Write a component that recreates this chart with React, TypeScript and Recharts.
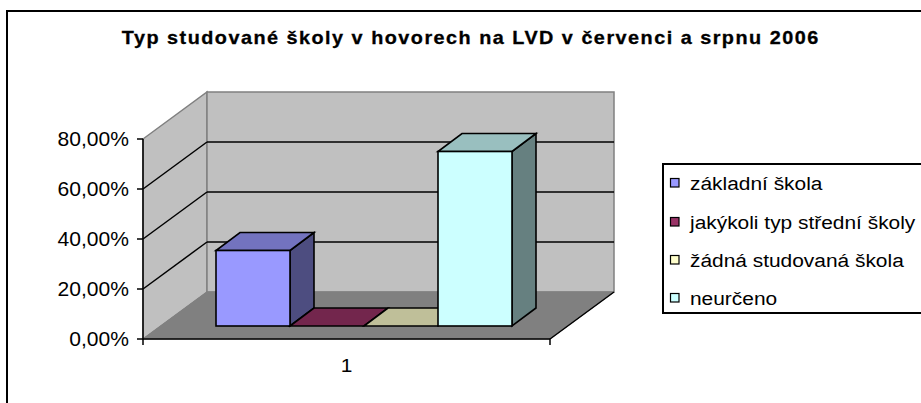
import React from 'react';
import { BarChart, Bar, XAxis, YAxis, ReferenceArea, Legend } from 'recharts';

const title = 'Typ studované školy v hovorech na LVD v červenci a srpnu 2006';
const categories = ['1'];
const seriesNames = ['základní škola', 'jakýkoli typ střední školy', 'žádná studovaná škola', 'neurčeno'];
const seriesValues = [0.302, 0, 0, 0.698];
const seriesColors = ['#9999FF', '#993366', '#FFFFCC', '#CCFFFF'];
const yTicks = [0, 0.2, 0.4, 0.6, 0.8];

const data = categories.map((c) => {
  const row: any = { name: c };
  seriesValues.forEach((v, i) => {
    row['s' + i] = v;
  });
  return row;
});

// 3D projection offsets (oblique)
const WALL_DX = 64;
const WALL_DY = -47;
const BAR_OX = 18;
const BAR_OY = -13;
const BAR_DX = 24;
const BAR_DY = -18;
const FONT = 'Arial, "Liberation Sans", sans-serif';

const shade = (hex: string, k: number) => {
  const n = parseInt(hex.slice(1), 16);
  const r = Math.round(((n >> 16) & 255) * k);
  const g = Math.round(((n >> 8) & 255) * k);
  const b = Math.round((n & 255) * k);
  return `rgb(${r},${g},${b})`;
};

const fmtPct = (v: number) => (v * 100).toFixed(2).replace('.', ',') + '%';

const Bar3D = (props: any) => {
  const { x, y, width, height, fill } = props;
  if (x == null || y == null) return null;
  const h = Math.max(0, height || 0);
  const fx = x + BAR_OX;
  const fy = y + BAR_OY;
  const w = width;
  const top = [
    [fx, fy],
    [fx + w, fy],
    [fx + w + BAR_DX, fy + BAR_DY],
    [fx + BAR_DX, fy + BAR_DY],
  ];
  const side = [
    [fx + w, fy],
    [fx + w + BAR_DX, fy + BAR_DY],
    [fx + w + BAR_DX, fy + h + BAR_DY],
    [fx + w, fy + h],
  ];
  const pts = (a: number[][]) => a.map((p) => p.join(',')).join(' ');
  return (
    <g>
      {h > 0 && (
        <polygon points={pts(side)} fill={shade(fill, 0.5)} stroke="#000" strokeWidth={1.6} strokeLinejoin="miter" />
      )}
      <polygon points={pts(top)} fill={shade(fill, 0.75)} stroke="#000" strokeWidth={1.6} strokeLinejoin="miter" />
      {h > 0 && <rect x={fx} y={fy} width={w} height={h} fill={fill} stroke="#000" strokeWidth={1.6} />}
    </g>
  );
};

const Walls = (props: any) => {
  const { x, y, width: w, height: h } = props;
  if (x == null) return null;
  const max = yTicks[yTicks.length - 1];
  const bx = x + WALL_DX;
  const by = y + WALL_DY;
  const grid = yTicks.filter((t) => t > 0 && t < max).map((t) => y + h * (1 - t / max));
  return (
    <g>
      <polygon
        points={`${x},${y} ${bx},${by} ${bx},${by + h} ${x},${y + h}`}
        fill="#C0C0C0"
        stroke="#808080"
        strokeWidth={1.5}
      />
      <rect x={bx} y={by} width={w} height={h} fill="#C0C0C0" stroke="#808080" strokeWidth={1.5} />
      <polygon
        points={`${x},${y + h} ${x + w},${y + h} ${bx + w},${by + h} ${bx},${by + h}`}
        fill="#808080"
        stroke="#808080"
        strokeWidth={1}
      />
      {grid.map((gy, i) => (
        <g key={i}>
          <line x1={x} y1={gy} x2={bx} y2={gy + WALL_DY} stroke="#000" strokeWidth={1.5} />
          <line x1={bx} y1={gy + WALL_DY} x2={bx + w} y2={gy + WALL_DY} stroke="#000" strokeWidth={1.5} />
        </g>
      ))}
      <line x1={x + w} y1={y + h} x2={bx + w} y2={by + h} stroke="#000" strokeWidth={1.5} />
      <line x1={x} y1={y + h} x2={x} y2={y + h + 6} stroke="#000" strokeWidth={1.5} />
      <line x1={x + w} y1={y + h} x2={x + w} y2={y + h + 6} stroke="#000" strokeWidth={1.5} />
    </g>
  );
};

const YTick = (props: any) => {
  const { x, y, payload } = props;
  return (
    <text
      transform={`translate(${x},${y}) scale(1.08,1)`}
      textAnchor="end"
      dominantBaseline="central"
      fontSize={19.5}
      fontFamily={FONT}
      fill="#000"
    >
      {fmtPct(payload.value)}
    </text>
  );
};

const XTick = (props: any) => {
  const { x, y, payload } = props;
  return (
    <text
      transform={`translate(${x},${y + 26}) scale(1.1,1)`}
      textAnchor="middle"
      dominantBaseline="central"
      fontSize={19}
      fontFamily={FONT}
      fill="#000"
    >
      {payload.value}
    </text>
  );
};

const LegendBox = () => {
  const rows = [20, 59, 97, 135];
  return (
    <svg width={270} height={151} style={{ display: 'block' }}>
      <rect x={1} y={1} width={300} height={149} fill="#fff" stroke="#000" strokeWidth={2} />
      {seriesNames.map((name, i) => (
        <g key={name}>
          <rect x={8.5} y={rows[i] - 4.5} width={8.5} height={8.5} fill={seriesColors[i]} stroke="#000" strokeWidth={1.2} />
          <text
            transform={`translate(28,${rows[i]}) scale(1.1,1)`}
            dominantBaseline="central"
            fontSize={19}
            fontFamily={FONT}
            fill="#000"
          >
            {name}
          </text>
        </g>
      ))}
    </svg>
  );
};

export default function App() {
  return (
    <div style={{ position: 'absolute', left: 0, top: 0, width: 921, height: 403, overflow: 'hidden', background: '#fff' }}>
      <div
        style={{
          position: 'absolute',
          left: 6,
          top: 10,
          width: 1000,
          height: 600,
          border: '2px solid #000',
          boxSizing: 'border-box',
        }}
      />
      <svg style={{ position: 'absolute', left: 0, top: 0 }} width={921} height={60}>
        <text
          transform="translate(470,44) scale(1.1,1)"
          textAnchor="middle"
          fontSize={18}
          fontWeight="bold"
          fontFamily={FONT}
          textLength={633}
          lengthAdjust="spacing"
          fill="#000"
          stroke="#000"
          strokeWidth={0.3}
        >
          {title}
        </text>
      </svg>
      <div style={{ position: 'absolute', left: 0, top: 0 }}>
        <BarChart
          width={921}
          height={403}
          data={data}
          margin={{ top: 139, right: 371, bottom: 34, left: 83 }}
          barCategoryGap={55}
          barGap={0}
        >
          <ReferenceArea y1={0} y2={yTicks[yTicks.length - 1]} ifOverflow="visible" shape={<Walls />} />
          <XAxis
            dataKey="name"
            height={30}
            tickLine={false}
            tickSize={0}
            tickMargin={0}
            axisLine={{ stroke: '#000', strokeWidth: 1.5 }}
            tick={<XTick />}
          />
          <YAxis
            width={60}
            domain={[0, yTicks[yTicks.length - 1]]}
            ticks={yTicks}
            interval={0}
            tickSize={6}
            tickMargin={8}
            axisLine={{ stroke: '#000', strokeWidth: 1.5 }}
            tickLine={{ stroke: '#000', strokeWidth: 1.5 }}
            tick={<YTick />}
          />
          <Legend
            layout="vertical"
            align="center"
            verticalAlign="middle"
            wrapperStyle={{ left: 662, top: 163, width: 270, height: 151 }}
            content={<LegendBox />}
          />
          {seriesNames.map((n, i) => (
            <Bar
              key={n}
              dataKey={'s' + i}
              name={n}
              fill={seriesColors[i]}
              shape={<Bar3D />}
              isAnimationActive={false}
            />
          ))}
        </BarChart>
      </div>
    </div>
  );
}
